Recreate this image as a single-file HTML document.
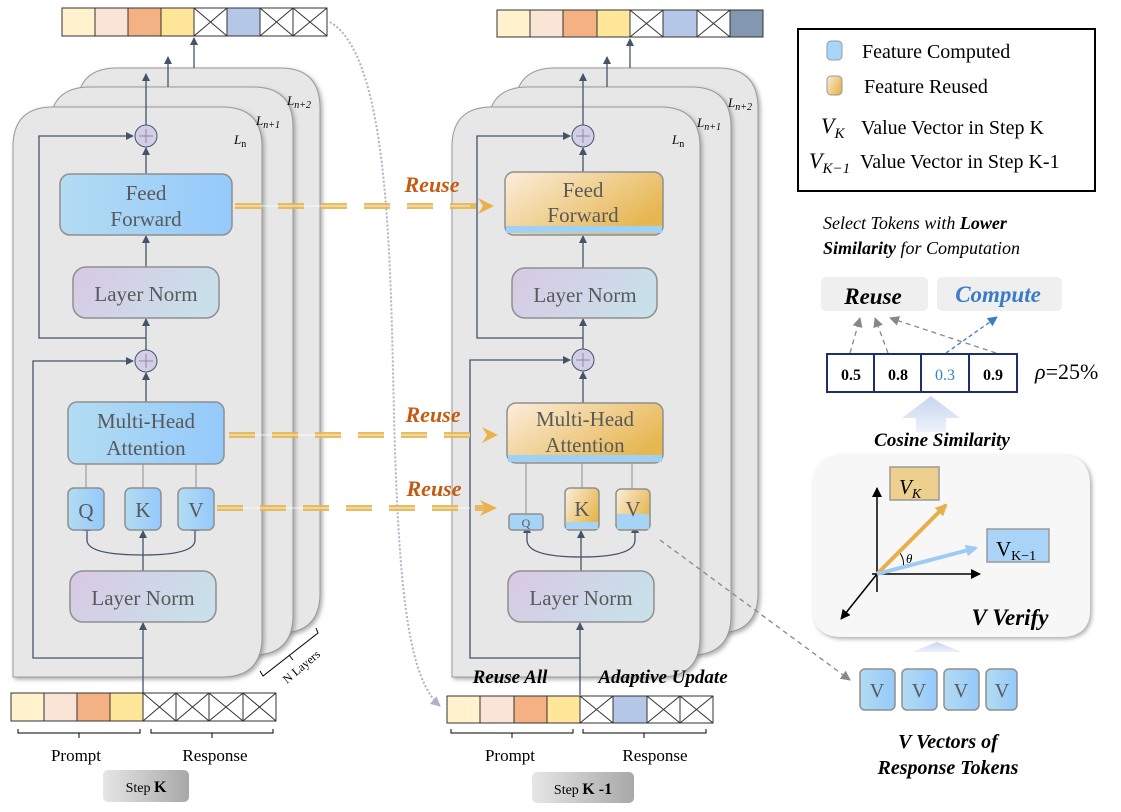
<!DOCTYPE html>
<html><head><meta charset="utf-8"><style>
html,body{margin:0;padding:0;background:#fff}
svg{display:block}
text{font-family:"Liberation Serif",serif}
</style></head><body>
<svg width="1121" height="812" viewBox="0 0 1121 812" xmlns="http://www.w3.org/2000/svg">
<defs>
<linearGradient id="blue" x1="0" x2="1" y1="0" y2="0"><stop offset="0" stop-color="#b3dcf2"/><stop offset="1" stop-color="#94c9fb"/></linearGradient>
<linearGradient id="ln" x1="0" x2="1" y1="0" y2="0.3"><stop offset="0" stop-color="#d9c8e3"/><stop offset="1" stop-color="#c9dfea"/></linearGradient>
<linearGradient id="org" x1="0" x2="1" y1="0" y2="0.6"><stop offset="0" stop-color="#fbeedc"/><stop offset="1" stop-color="#e6b650"/></linearGradient>
<linearGradient id="step" x1="0" x2="1"><stop offset="0" stop-color="#e6e6e6"/><stop offset="1" stop-color="#a8a8a8"/></linearGradient>
<linearGradient id="upar" x1="0" x2="0" y1="0" y2="1"><stop offset="0" stop-color="#c7d5ef"/><stop offset="1" stop-color="#eef2fa"/></linearGradient>
<marker id="ah" markerWidth="8" markerHeight="8" refX="7" refY="4" orient="auto" markerUnits="userSpaceOnUse"><path d="M0,0 L8,4 L0,8 Z" fill="#44546a"/></marker>
<marker id="ahg" markerWidth="10" markerHeight="10" refX="9" refY="5" orient="auto" markerUnits="userSpaceOnUse"><path d="M0,0 L10,5 L0,10 Z" fill="#888"/></marker>
<marker id="ahb" markerWidth="10" markerHeight="10" refX="9" refY="5" orient="auto" markerUnits="userSpaceOnUse"><path d="M0,0 L10,5 L0,10 Z" fill="#3b7cc4"/></marker>
<marker id="ahk" markerWidth="10" markerHeight="10" refX="9" refY="5" orient="auto" markerUnits="userSpaceOnUse"><path d="M0,0 L10,5 L0,10 Z" fill="#000"/></marker>
<marker id="aho" markerWidth="12" markerHeight="12" refX="10" refY="6" orient="auto" markerUnits="userSpaceOnUse"><path d="M0,0 L12,6 L0,12 Z" fill="#e6b14a"/></marker>
<marker id="ahl" markerWidth="12" markerHeight="12" refX="10" refY="6" orient="auto" markerUnits="userSpaceOnUse"><path d="M0,0 L12,6 L0,12 Z" fill="#9ccbf5"/></marker>
<marker id="ahp" markerWidth="10" markerHeight="10" refX="9" refY="5" orient="auto" markerUnits="userSpaceOnUse"><path d="M0,0 L10,5 L0,10 Z" fill="#b0b0cc"/></marker>
<filter id="sh" x="-10%" y="-10%" width="130%" height="130%"><feDropShadow dx="2" dy="2" stdDeviation="2" flood-color="#777" flood-opacity="0.6"/></filter>
</defs>

<!-- ============ LEFT STACK ============ -->
<g stroke="#9a9a9a" stroke-width="1">
<path d="M77,633 V108 Q77,68 117,68 H280 Q320,68 320,108 V593 Q320,633 280,633 Z" fill="#e7e7e7" filter="url(#sh)"/>
<path d="M50,655 V127 Q50,87 90,87 H253 Q293,87 293,127 V615 Q293,655 253,655 Z" fill="#e7e7e7" filter="url(#sh)"/>
<path d="M13,677 V147 Q13,107 53,107 H222 Q262,107 262,147 V637 Q262,677 222,677 Z" fill="#e7e7e7" filter="url(#sh)"/>
</g>
<text x="234" y="144" font-size="13" font-style="italic">L<tspan font-size="10" dy="3" font-style="normal">n</tspan></text>
<text x="256" y="125" font-size="13" font-style="italic">L<tspan font-size="10" dy="3">n+1</tspan></text>
<text x="287" y="105" font-size="13" font-style="italic">L<tspan font-size="10" dy="3">n+2</tspan></text>
<g stroke="#333" stroke-width="1">
<rect x="62" y="8" width="33" height="28" fill="#fff2cc"/><rect x="95" y="8" width="33" height="28" fill="#fae4d6"/><rect x="128" y="8" width="33" height="28" fill="#f4b183"/><rect x="161" y="8" width="33" height="28" fill="#ffe699"/>
<rect x="194" y="8" width="33" height="28" fill="#fff"/><path d="M194,8 L227,36 M227,8 L194,36"/>
<rect x="227" y="8" width="33" height="28" fill="#b4c7e7"/>
<rect x="260" y="8" width="33" height="28" fill="#fff"/><path d="M260,8 L293,36 M293,8 L260,36"/>
<rect x="293" y="8" width="34" height="28" fill="#fff"/><path d="M293,8 L327,36 M327,8 L293,36"/>
</g>
<g stroke="#44546a" stroke-width="1.3" fill="none">
<line x1="194" y1="68" x2="194" y2="38" marker-end="url(#ah)"/>
<line x1="168" y1="87" x2="168" y2="57" marker-end="url(#ah)"/>
<line x1="146" y1="125" x2="146" y2="74" marker-end="url(#ah)"/>
<line x1="146" y1="174" x2="146" y2="148" marker-end="url(#ah)"/>
<line x1="146" y1="267" x2="146" y2="236" marker-end="url(#ah)"/>
<line x1="146" y1="350" x2="146" y2="319" marker-end="url(#ah)"/>
<polyline points="146,338 39,338 39,136 133,136" marker-end="url(#ah)"/>
<line x1="146" y1="402" x2="146" y2="373" marker-end="url(#ah)"/>
<polyline points="143,658 33,658 33,361 133,361" marker-end="url(#ah)"/>
<line x1="143" y1="693" x2="143" y2="623" marker-end="url(#ah)"/>
<line x1="143" y1="571" x2="143" y2="531" marker-end="url(#ah)"/>
<path d="M87,531 V540 Q87,555 143,555 Q195,555 195,540 V531" />
</g>
<path d="M83,531 L87,523 L91,531 Z M191,531 L195,523 L199,531 Z" fill="#44546a"/>
<g fill="#d3cde6" stroke="#44546a" stroke-width="1"><circle cx="146" cy="136" r="11"/><circle cx="146" cy="361" r="11"/></g>
<path d="M139,136 H153 M146,129 V143 M139,361 H153 M146,354 V368" stroke="#8a8aa6" stroke-width="1"/>
<g stroke="#8f8f8f" stroke-width="1"><line x1="86" y1="464" x2="86" y2="488"/><line x1="143" y1="464" x2="143" y2="488"/><line x1="196" y1="464" x2="196" y2="488"/></g>
<g stroke="#8f8f8f" stroke-width="1.5">
<rect x="60" y="174" width="172" height="61" rx="10" fill="url(#blue)"/>
<rect x="73" y="267" width="146" height="51" rx="13" fill="url(#ln)"/>
<rect x="68" y="402" width="156" height="62" rx="9" fill="url(#blue)"/>
<rect x="68" y="488" width="36" height="42" rx="6" fill="url(#blue)"/>
<rect x="125" y="488" width="36" height="42" rx="6" fill="url(#blue)"/>
<rect x="178" y="488" width="36" height="42" rx="6" fill="url(#blue)"/>
<rect x="70" y="571" width="146" height="51" rx="13" fill="url(#ln)"/>
</g>
<g fill="#595959" font-size="21" text-anchor="middle">
<text x="146" y="200">Feed</text><text x="146" y="226">Forward</text>
<text x="146" y="301">Layer Norm</text>
<text x="146" y="428">Multi-Head</text><text x="146" y="455">Attention</text>
<text x="86" y="518">Q</text><text x="143" y="517">K</text><text x="196" y="517">V</text>
<text x="143" y="605">Layer Norm</text>
</g>
<g stroke="#000" stroke-width="1" fill="none"><path d="M260,671 L263,676 L318,633 L316,628 M289,655 L293,660"/></g>
<text x="0" y="0" font-size="12" transform="translate(287,684) rotate(-40)">N  Layers</text>
<g stroke="#333" stroke-width="1">
<rect x="11" y="693" width="33" height="28" fill="#fff2cc"/><rect x="44" y="693" width="33" height="28" fill="#fae4d6"/><rect x="77" y="693" width="33" height="28" fill="#f4b183"/><rect x="110" y="693" width="33" height="28" fill="#ffe699"/>
<rect x="143" y="693" width="33" height="28" fill="#fff"/><path d="M143,693 L176,721 M176,693 L143,721"/>
<rect x="176" y="693" width="33" height="28" fill="#fff"/><path d="M176,693 L209,721 M209,693 L176,721"/>
<rect x="209" y="693" width="34" height="28" fill="#fff"/><path d="M209,693 L243,721 M243,693 L209,721"/>
<rect x="243" y="693" width="33" height="28" fill="#fff"/><path d="M243,693 L276,721 M276,693 L243,721"/>
</g>
<g stroke="#000" fill="none" stroke-width="1"><path d="M18,729 V733 H140 V729 M79,733 V738 M151,729 V733 H273 V729 M212,733 V738"/></g>
<text x="76" y="761" font-size="17" text-anchor="middle">Prompt</text>
<text x="215" y="761" font-size="17" text-anchor="middle">Response</text>
<rect x="103" y="770" width="86" height="32" rx="5" fill="url(#step)"/>
<text x="146" y="792" font-size="14" text-anchor="middle">Step <tspan font-weight="bold" font-size="16">K</tspan></text>

<path d="M330,22 C395,60 390,300 395,450 C400,600 410,680 440,706" fill="none" stroke="#b0b0cc" stroke-width="2" stroke-dasharray="2,2" marker-end="url(#ahp)"/>

<!-- ============ MIDDLE STACK ============ -->
<g stroke="#9a9a9a" stroke-width="1">
<path d="M515,633 V108 Q515,68 555,68 H718 Q758,68 758,108 V593 Q758,633 718,633 Z" fill="#e7e7e7" filter="url(#sh)"/>
<path d="M488,655 V127 Q488,87 528,87 H691 Q731,87 731,127 V615 Q731,655 691,655 Z" fill="#e7e7e7" filter="url(#sh)"/>
<path d="M452,677 V147 Q452,107 492,107 H660 Q700,107 700,147 V637 Q700,677 660,677 Z" fill="#e7e7e7" filter="url(#sh)"/>
</g>
<text x="672" y="144" font-size="13" font-style="italic">L<tspan font-size="10" dy="3" font-style="normal">n</tspan></text>
<text x="697" y="127" font-size="13" font-style="italic">L<tspan font-size="10" dy="3">n+1</tspan></text>
<text x="728" y="107" font-size="13" font-style="italic">L<tspan font-size="10" dy="3">n+2</tspan></text>
<g stroke="#333" stroke-width="1">
<rect x="497" y="10" width="33" height="27" fill="#fff2cc"/><rect x="530" y="10" width="33" height="27" fill="#fae4d6"/><rect x="563" y="10" width="34" height="27" fill="#f4b183"/><rect x="597" y="10" width="33" height="27" fill="#ffe699"/>
<rect x="630" y="10" width="33" height="27" fill="#fff"/><path d="M630,10 L663,37 M663,10 L630,37"/>
<rect x="663" y="10" width="34" height="27" fill="#b4c7e7"/>
<rect x="697" y="10" width="33" height="27" fill="#fff"/><path d="M697,10 L730,37 M730,10 L697,37"/>
<rect x="730" y="10" width="33" height="27" fill="#8497b0"/>
</g>
<g stroke="#44546a" stroke-width="1.3" fill="none">
<line x1="630" y1="68" x2="630" y2="39" marker-end="url(#ah)"/>
<line x1="607" y1="87" x2="607" y2="57" marker-end="url(#ah)"/>
<line x1="583" y1="125" x2="583" y2="74" marker-end="url(#ah)"/>
<line x1="583" y1="172" x2="583" y2="148" marker-end="url(#ah)"/>
<line x1="583" y1="268" x2="583" y2="236" marker-end="url(#ah)"/>
<line x1="583" y1="349" x2="583" y2="319" marker-end="url(#ah)"/>
<polyline points="583,338 477,338 477,136 570,136" marker-end="url(#ah)"/>
<line x1="583" y1="403" x2="583" y2="372" marker-end="url(#ah)"/>
<polyline points="580,658 470,658 470,360 570,360" marker-end="url(#ah)"/>
<line x1="580" y1="695" x2="580" y2="623" marker-end="url(#ah)"/>
<line x1="581" y1="571" x2="581" y2="531" marker-end="url(#ah)"/>
<path d="M527,531 V540 Q527,557 581,557 Q635,557 635,540 V531"/>
</g>
<path d="M523,533 L527,525 L531,533 Z M631,533 L635,525 L639,533 Z" fill="#44546a"/>
<g fill="#d3cde6" stroke="#44546a" stroke-width="1"><circle cx="583" cy="136" r="11"/><circle cx="583" cy="360" r="11"/></g>
<path d="M576,136 H590 M583,129 V143 M576,360 H590 M583,353 V367" stroke="#8a8aa6" stroke-width="1"/>
<g stroke="#8f8f8f" stroke-width="1"><line x1="526" y1="463" x2="526" y2="514"/><line x1="582" y1="463" x2="582" y2="488"/><line x1="632" y1="463" x2="632" y2="489"/></g>
<g stroke="#8f8f8f" stroke-width="1.5">
<rect x="505" y="172" width="158" height="63" rx="9" fill="url(#org)"/>
<rect x="512" y="268" width="145" height="50" rx="13" fill="url(#ln)"/>
<rect x="507" y="403" width="156" height="60" rx="9" fill="url(#org)"/>
<rect x="565" y="488" width="34" height="42" rx="5" fill="url(#org)"/>
<rect x="616" y="489" width="34" height="41" rx="5" fill="url(#org)"/>
<rect x="508" y="571" width="146" height="51" rx="13" fill="url(#ln)"/>
</g>
<rect x="506" y="226" width="156" height="7" fill="#9fd0f6"/>
<rect x="508" y="455" width="154" height="7" fill="#9fd0f6"/>
<rect x="566" y="522" width="32" height="7" fill="#a5d4f6"/>
<rect x="617" y="514" width="32" height="15" fill="#a5d4f6"/>
<rect x="509" y="514" width="34" height="16" rx="3" fill="#a5d4f6" stroke="#8f8f8f" stroke-width="1.5"/>
<g fill="#595959" font-size="21" text-anchor="middle">
<text x="583" y="197">Feed</text><text x="583" y="222">Forward</text>
<text x="585" y="302">Layer Norm</text>
<text x="585" y="426">Multi-Head</text><text x="585" y="452">Attention</text>
<text x="526" y="527" font-size="12">Q</text><text x="582" y="516">K</text><text x="633" y="516">V</text>
<text x="581" y="605">Layer Norm</text>
</g>
<g stroke="#000" fill="none" stroke-width="1"><path d="M451,729 V733 H573 V729 M512,733 V738 M583,729 V733 H706 V729 M644,733 V738"/></g>
<g stroke="#333" stroke-width="1">
<rect x="447" y="696" width="33" height="27" fill="#fff2cc"/><rect x="480" y="696" width="34" height="27" fill="#fae4d6"/><rect x="514" y="696" width="33" height="27" fill="#f4b183"/><rect x="547" y="696" width="33" height="27" fill="#ffe699"/>
<rect x="580" y="696" width="33" height="27" fill="#fff"/><path d="M580,696 L613,723 M613,696 L580,723"/>
<rect x="613" y="696" width="34" height="27" fill="#b4c7e7"/>
<rect x="647" y="696" width="33" height="27" fill="#fff"/><path d="M647,696 L680,723 M680,696 L647,723"/>
<rect x="680" y="696" width="33" height="27" fill="#fff"/><path d="M680,696 L713,723 M713,696 L680,723"/>
</g>
<text x="510" y="683" font-size="19" font-weight="bold" font-style="italic" text-anchor="middle">Reuse All</text>
<text x="663" y="683" font-size="19" font-weight="bold" font-style="italic" text-anchor="middle">Adaptive Update</text>
<text x="510" y="761" font-size="17" text-anchor="middle">Prompt</text>
<text x="655" y="761" font-size="17" text-anchor="middle">Response</text>
<rect x="532" y="772" width="102" height="31" rx="5" fill="url(#step)"/>
<text x="583" y="794" font-size="14" text-anchor="middle">Step <tspan font-weight="bold" font-size="16">K -1</tspan></text>

<g stroke="#e6b650" stroke-width="6" stroke-dasharray="26,17" fill="none" opacity="0.9">
<line x1="235" y1="206" x2="485" y2="206"/>
<line x1="229" y1="435" x2="490" y2="435"/>
<line x1="217" y1="508" x2="490" y2="508"/>
</g>
<g stroke="#fff" stroke-width="1" opacity="0.8"><line x1="235" y1="206" x2="470" y2="206"/><line x1="229" y1="435" x2="470" y2="435"/><line x1="217" y1="508" x2="470" y2="508"/></g>
<path d="M478,198 L494,206 L478,214 L483,206 Z M482,427 L498,435 L482,443 L487,435 Z M480,500 L497,508 L480,516 L485,508 Z" fill="#e9b24a"/>
<g fill="#c55a11" font-size="22" font-weight="bold" font-style="italic" text-anchor="middle">
<text x="432" y="192">Reuse</text><text x="433" y="422">Reuse</text><text x="434" y="496">Reuse</text>
</g>

<!-- ============ RIGHT ============ -->
<rect x="798" y="29" width="297" height="162" fill="#fff" stroke="#000" stroke-width="2"/>
<rect x="827" y="41" width="15" height="19" rx="4" fill="#a9d6f8" stroke="#999"/>
<rect x="827" y="76" width="15" height="19" rx="4" fill="url(#org)" stroke="#999"/>
<g font-size="20">
<text x="862" y="58">Feature Computed</text>
<text x="864" y="93">Feature Reused</text>
<text x="821" y="133" font-style="italic" font-size="22">V<tspan font-size="15" dy="5">K</tspan></text>
<text x="861" y="134">Value Vector in Step K</text>
<text x="809" y="168" font-style="italic" font-size="22">V<tspan font-size="15" dy="5">K−1</tspan></text>
<text x="860" y="168">Value Vector in Step K-1</text>
</g>
<text x="823" y="229" font-size="18" font-style="italic">Select Tokens with <tspan font-weight="bold">Lower</tspan></text>
<text x="823" y="254" font-size="18" font-style="italic"><tspan font-weight="bold">Similarity</tspan> for Computation</text>
<rect x="821" y="277" width="107" height="34" rx="5" fill="#efefef"/>
<rect x="937" y="277" width="125" height="34" rx="5" fill="#efefef"/>
<text x="873" y="304" font-size="23" font-weight="bold" font-style="italic" text-anchor="middle">Reuse</text>
<text x="998" y="302" font-size="23" font-weight="bold" font-style="italic" text-anchor="middle" fill="#3a7cc8">Compute</text>
<g stroke="#888" stroke-width="1.3" stroke-dasharray="5,4" fill="none">
<line x1="850" y1="353" x2="860" y2="318" marker-end="url(#ahg)"/>
<line x1="888" y1="353" x2="875" y2="318" marker-end="url(#ahg)"/>
<line x1="996" y1="353" x2="890" y2="318" marker-end="url(#ahg)"/>
</g>
<line x1="946" y1="353" x2="997" y2="317" stroke="#3b7cc4" stroke-width="1.3" stroke-dasharray="4,3" marker-end="url(#ahb)"/>
<g stroke="#1f2f6b" stroke-width="2" fill="#fff">
<rect x="827" y="354" width="47" height="38"/><rect x="874" y="354" width="47" height="38"/><rect x="921" y="354" width="48" height="38"/><rect x="969" y="354" width="48" height="38"/>
</g>
<g font-size="16" font-weight="bold" text-anchor="middle">
<text x="851" y="380">0.5</text><text x="898" y="380">0.8</text><text x="945" y="380" fill="#3a7cc8" font-weight="normal">0.3</text><text x="993" y="380">0.9</text>
</g>
<text x="1035" y="379" font-size="22"><tspan font-style="italic">ρ</tspan>=25%</text>
<path d="M902,418 L931,396 L960,418 L946,418 L946,432 L916,432 L916,418 Z" fill="url(#upar)"/>
<text x="942" y="446" font-size="19" font-weight="bold" font-style="italic" text-anchor="middle">Cosine Similarity</text>
<path d="M813,485 Q813,455 843,455 H1060 Q1090,455 1090,485 V610 Q1090,637 1060,637 H843 Q813,637 813,610 Z" fill="#f7f7f7" filter="url(#sh)"/>
<rect x="890" y="467" width="49" height="33" fill="#edd08e" stroke="#999" stroke-width="1.5"/>
<text x="899" y="494" font-size="21" font-style="italic">V<tspan font-size="14" dy="4">K</tspan></text>
<rect x="987" y="529" width="62" height="33" fill="#a9d3f7" stroke="#999" stroke-width="1.5"/>
<text x="996" y="556" font-size="21">V<tspan font-size="14" dy="4">K−1</tspan></text>
<g stroke="#000" stroke-width="1.5" fill="none">
<line x1="877" y1="592" x2="877" y2="488" marker-end="url(#ahk)"/>
<line x1="872" y1="574" x2="980" y2="574" marker-end="url(#ahk)"/>
<line x1="877" y1="574" x2="841" y2="619" marker-end="url(#ahk)"/>
<path d="M900,553 Q905,560 903,568" stroke-width="1"/>
</g>
<line x1="877" y1="574" x2="946" y2="505" stroke="#e6b14a" stroke-width="4" marker-end="url(#aho)"/>
<line x1="877" y1="574" x2="976" y2="548" stroke="#9ccbf5" stroke-width="4" marker-end="url(#ahl)"/>
<text x="906" y="563" font-size="13" font-style="italic">θ</text>
<text x="1010" y="625" font-size="23" font-weight="bold" font-style="italic" text-anchor="middle">V Verify</text>
<path d="M912,652 L937,642 L962,652 Z" fill="url(#upar)"/>
<g stroke="#8f8f8f" stroke-width="1.5" fill="url(#blue)">
<rect x="860" y="669" width="35" height="41" rx="5"/><rect x="902" y="669" width="35" height="41" rx="5"/><rect x="944" y="669" width="35" height="41" rx="5"/><rect x="986" y="669" width="31" height="41" rx="5"/>
</g>
<g fill="#595959" font-size="20" text-anchor="middle"><text x="877" y="697">V</text><text x="919" y="697">V</text><text x="961" y="697">V</text><text x="1002" y="697">V</text></g>
<line x1="660" y1="540" x2="850" y2="680" stroke="#888" stroke-width="1.3" stroke-dasharray="5,4" marker-end="url(#ahg)"/>
<text x="948" y="748" font-size="20" font-weight="bold" font-style="italic" text-anchor="middle">V Vectors of</text>
<text x="948" y="774" font-size="20" font-weight="bold" font-style="italic" text-anchor="middle">Response Tokens</text>
</svg>
</body></html>
